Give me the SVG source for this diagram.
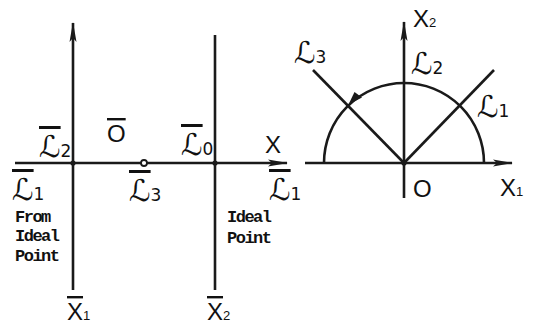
<svg xmlns="http://www.w3.org/2000/svg" width="533" height="333" viewBox="0 0 533 333">
<style>
.ln{stroke:#1a1a1a;stroke-width:2.6;fill:none;stroke-linecap:butt}
.lbl{font-family:"Liberation Sans","DejaVu Sans",sans-serif;font-size:24px;fill:#111}
.scr{font-family:"DejaVu Sans","Liberation Sans",sans-serif;font-size:30px;fill:#111}
.sub{font-size:17px}
.ssub{font-size:13px}
.bar{text-decoration:overline}
.mono{font-family:"Liberation Mono",monospace;font-size:17px;font-weight:bold;letter-spacing:-1.5px;fill:#111}
.dot{fill:#1a1a1a}
</style>
<defs>
<marker id="ah" viewBox="0 0 20 10" refX="19" refY="5" markerWidth="20" markerHeight="10" markerUnits="userSpaceOnUse" orient="auto">
<path d="M0,1.5 L20,5 L0,8.5 L4,5 z" fill="#1a1a1a"/>
</marker>
</defs>
<g id="connectors">
<line class="ln" x1="15" y1="163" x2="287" y2="163" marker-end="url(#ah)"/>
<line class="ln" x1="73" y1="290" x2="73" y2="23" marker-end="url(#ah)"/>
<line class="ln" x1="215" y1="290" x2="215" y2="35"/>
<line class="ln" x1="305" y1="163" x2="512" y2="163" marker-end="url(#ah)"/>
<line class="ln" x1="404" y1="198" x2="404" y2="22" marker-end="url(#ah)"/>
<line class="ln" x1="404" y1="163" x2="494" y2="70"/>
<line class="ln" x1="404" y1="163" x2="313" y2="70"/>
<path class="ln" d="M324,163 A80,80 0 0 1 484,163"/>
<polygon points="348.5,104.5 354.5,92 362,97.5" fill="#1a1a1a"/>
</g>
<g id="points">
<circle class="dot" cx="73" cy="163" r="2.6"/>
<circle cx="144" cy="163" r="3" fill="#fff" stroke="#1a1a1a" stroke-width="1.8"/>
<circle class="dot" cx="215" cy="163" r="2.6"/>
<circle class="dot" cx="404" cy="163" r="2.6"/>
</g>
<g id="left-labels">
<text class="scr" x="39" y="157"><tspan class="bar">ℒ</tspan><tspan class="sub">2</tspan></text>
<text class="lbl" x="107" y="142"><tspan class="bar">O</tspan></text>
<text class="scr" x="181" y="155"><tspan class="bar">ℒ</tspan><tspan class="sub">0</tspan></text>
<text class="lbl" x="265" y="153">X</text>
<text class="scr" x="269" y="200"><tspan class="bar">ℒ</tspan><tspan class="sub">1</tspan></text>
<text class="scr" x="12" y="200"><tspan class="bar">ℒ</tspan><tspan class="sub">1</tspan></text>
<text class="scr" x="129" y="201"><tspan class="bar">ℒ</tspan><tspan class="sub">3</tspan></text>
<text class="lbl" x="67" y="320"><tspan class="bar">X</tspan><tspan class="ssub">1</tspan></text>
<text class="lbl" x="207" y="320"><tspan class="bar">X</tspan><tspan class="ssub">2</tspan></text>
<text class="mono" x="15" y="222">From</text>
<text class="mono" x="15" y="241">Ideal</text>
<text class="mono" x="15" y="261">Point</text>
<text class="mono" x="227" y="222">Ideal</text>
<text class="mono" x="227" y="243">Point</text>
</g>
<g id="right-labels">
<text class="lbl" x="413" y="27">X<tspan class="ssub">2</tspan></text>
<text class="scr" x="294" y="63">ℒ<tspan class="sub">3</tspan></text>
<text class="scr" x="411" y="74">ℒ<tspan class="sub">2</tspan></text>
<text class="scr" x="477" y="117">ℒ<tspan class="sub">1</tspan></text>
<text class="lbl" x="413" y="197">O</text>
<text class="lbl" x="500" y="196">X<tspan class="ssub">1</tspan></text>
</g>
</svg>
